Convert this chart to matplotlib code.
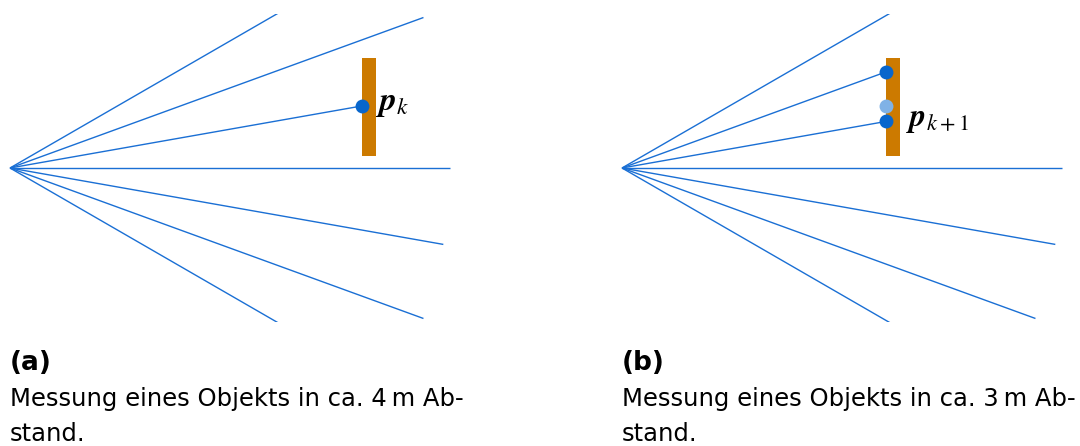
import numpy as np
import matplotlib
matplotlib.use("Agg")
import matplotlib.pyplot as plt

# ---- data ----
ray_angles_deg = [30, 20, 10, 0, -10, -20, -30]   # beam directions
ray_range_m = 5.0                                 # max sensor range
object_distance_m = [4.0, 3.0]                    # panel (a), panel (b)
object_y_range_m = [0.14, 1.25]                   # vertical extent of object
object_width_m = 0.16
previous_point_dist_m = 4.0                       # p_k shown faded in (b)
previous_point_angle_deg = 10
panel_letters = ["(a)", "(b)"]
captions_line1 = ["Messung eines Objekts in ca. 4\u2009m Ab-",
                  "Messung eines Objekts in ca. 3\u2009m Ab-"]
captions_line2 = ["stand.", "stand."]
point_labels = [r"$\mathbfit{p}_{k}$", r"$\mathbfit{p}_{k+1}$"]

# ---- style ----
W, H = 1080, 446
DPI = 100
SCALE = 88.0   # px per metre
ray_color = "#1a6fd4"
pt_color = "#0866cc"
pt_light = "#80b2e6"
bar_color = "#cc7a00"
label_dx_m = [-0.01, 0.07]
label_size = [24, 23]

fig = plt.figure(figsize=(W / DPI, H / DPI), dpi=DPI)

origins_px = [(10, 168), (622, 168)]
xlim = (-0.1, 5.1)
ylim = (-1.75, 1.75)

for i, (ox, oy) in enumerate(origins_px):
    left_px = ox + xlim[0] * SCALE
    width_px = (xlim[1] - xlim[0]) * SCALE
    bottom_px = (H - oy) + ylim[0] * SCALE
    height_px = (ylim[1] - ylim[0]) * SCALE
    ax = fig.add_axes([left_px / W, bottom_px / H, width_px / W, height_px / H])
    ax.set_xlim(*xlim)
    ax.set_ylim(*ylim)
    ax.axis("off")

    d = object_distance_m[i]
    y0, y1 = object_y_range_m
    ax.bar(d, y1 - y0, width=object_width_m, bottom=y0, align="edge",
           color=bar_color, zorder=2, linewidth=0)

    hits = []
    for a in ray_angles_deg:
        t = np.deg2rad(a)
        yh = d * np.tan(t)
        if y0 <= yh <= y1:
            xe, ye = d, yh
            hits.append((xe, ye))
        else:
            xe, ye = ray_range_m * np.cos(t), ray_range_m * np.sin(t)
        ax.plot([0, xe], [0, ye], color=ray_color, lw=1.0, zorder=1,
                solid_capstyle="butt")

    if i == 1:
        yp = previous_point_dist_m * np.tan(np.deg2rad(previous_point_angle_deg))
        ax.plot([d], [yp], "o", color=pt_light, ms=10, mec="none", zorder=3)

    for (xh, yh) in hits:
        ax.plot([xh], [yh], "o", color=pt_color, ms=10, mec="none", zorder=4)

    # label next to the lowest hit
    ly = min(h[1] for h in hits)
    ax.text(d + object_width_m + label_dx_m[i], ly - 0.05, point_labels[i],
            fontsize=label_size[i], math_fontfamily="stix",
            va="baseline", ha="left", zorder=5)

    # captions
    tx = ox / W
    fig.text(tx, 1 - 370 / H, panel_letters[i], fontsize=19, fontweight="bold",
             family="DejaVu Sans", va="baseline", ha="left")
    fig.text(tx, 1 - 406 / H, captions_line1[i], fontsize=17.5,
             family="DejaVu Sans", va="baseline", ha="left")
    fig.text(tx, 1 - 441 / H, captions_line2[i], fontsize=17.5,
             family="DejaVu Sans", va="baseline", ha="left")

fig.savefig("out.png", dpi=DPI)
